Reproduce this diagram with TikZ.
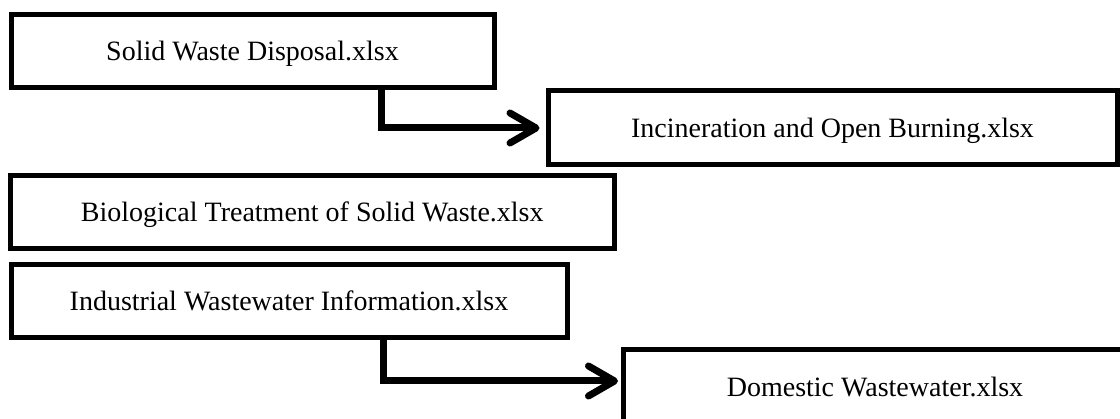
\documentclass[tikz,border=0pt]{standalone}
\usepackage{fontspec}
\setmainfont{Liberation Serif}
\usetikzlibrary{arrows.meta}
\begin{document}
\begin{tikzpicture}[x=1pt, y=-1pt,
  filebox/.style={draw, line width=5pt, inner sep=0pt, rectangle,
    font=\fontsize{28}{34}\selectfont, text height=18.5pt, text depth=0pt},
  flow/.style={line width=7pt, line join=miter,
    -{Straight Barb[length=26pt, width=30pt, round]}}
]
  \useasboundingbox (0,0) rectangle (1120,419);
  \clip (0,0) rectangle (1120,419);

  % spreadsheet files
  \node[filebox, minimum width=483pt, minimum height=73.5pt] (b1) at (252.5,51.25) {Solid Waste Disposal.xlsx};
  \node[filebox, minimum width=569pt, minimum height=74pt]   (b2) at (832.5,128)  {Incineration and Open Burning.xlsx};
  \node[filebox, minimum width=603.5pt, minimum height=73pt] (b3) at (312.25,212.5) {Biological Treatment of Solid Waste.xlsx};
  \node[filebox, minimum width=556pt, minimum height=73pt]   (b4) at (289,301.5)  {Industrial Wastewater Information.xlsx};
  \node[filebox, minimum width=504pt, minimum height=74pt]   (b5) at (875,387)    {Domestic Wastewater.xlsx};

  % elbow connectors
  \draw[flow] ([xshift=128.5pt]b1.south) |- ([xshift=-6pt]b2.west);
  \draw[flow] ([xshift=94pt]b4.south) |- ([xshift=-2.5pt, yshift=6pt]b5.west);
\end{tikzpicture}
\end{document}
